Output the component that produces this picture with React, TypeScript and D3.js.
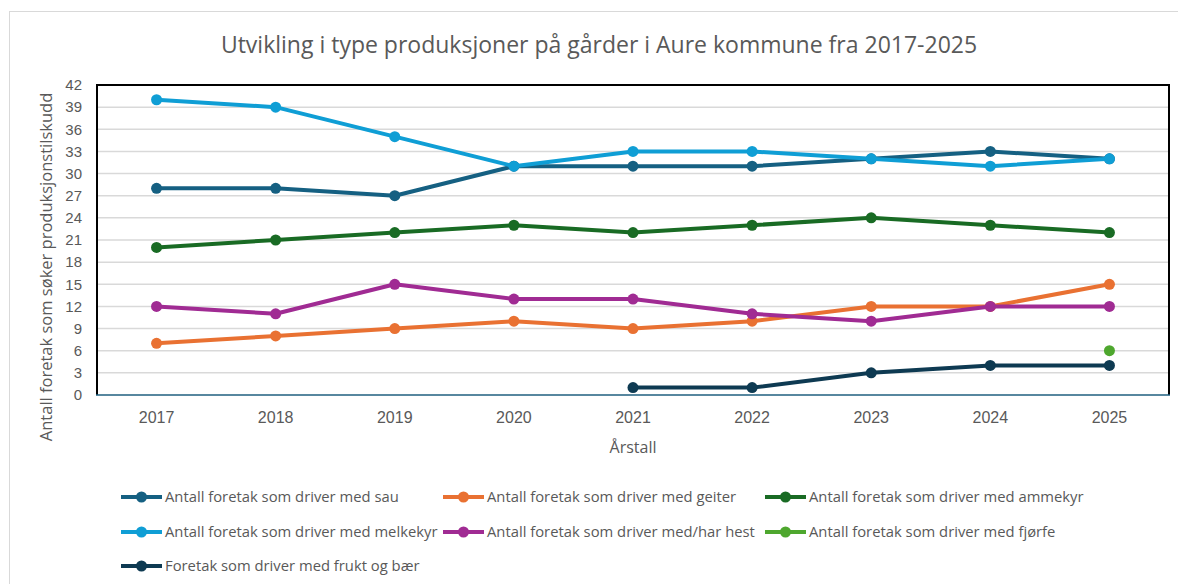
import React, { useEffect, useRef } from "react";
import * as d3 from "d3";

// chart data
const years = ["2017", "2018", "2019", "2020", "2021", "2022", "2023", "2024", "2025"];
const sau = [28, 28, 27, 31, 31, 31, 32, 33, 32];
const geiter = [7, 8, 9, 10, 9, 10, 12, 12, 15];
const ammekyr = [20, 21, 22, 23, 22, 23, 24, 23, 22];
const melkekyr = [40, 39, 35, 31, 33, 33, 32, 31, 32];
const hest = [12, 11, 15, 13, 13, 11, 10, 12, 12];
const fjorfe = [null, null, null, null, null, null, null, null, 6];
const fruktBaer = [null, null, null, null, 1, 1, 3, 4, 4];
const yTicks = [0, 3, 6, 9, 12, 15, 18, 21, 24, 27, 30, 33, 36, 39, 42];

const seriesNames = [
  "Antall foretak som driver med sau",
  "Antall foretak som driver med geiter",
  "Antall foretak som driver med ammekyr",
  "Antall foretak som driver med melkekyr",
  "Antall foretak som driver med/har hest",
  "Antall foretak som driver med fjørfe",
  "Foretak som driver med frukt og bær",
];
const seriesColors = ["#156082", "#e97132", "#196b24", "#0f9ed5", "#a02b93", "#4ea72e", "#0e3a52"];

export default function App() {
  const ref = useRef<SVGSVGElement>(null);

  useEffect(() => {
    const svg = d3.select(ref.current);
    svg.selectAll("*").remove();

    const width = 1178;
    const height = 584;
    const margin = { top: 85, right: 9, bottom: 189, left: 97 };
    const plotW = width - margin.left - margin.right;
    const plotH = height - margin.top - margin.bottom;
    const textColor = "#595959";
    const tickFont = "'Liberation Sans', Arial, sans-serif";
    const labelFont = "'Open Sans', sans-serif";

    // outer chart frame
    svg.append("rect")
      .attr("x", 9.5).attr("y", 11.5)
      .attr("width", width).attr("height", height)
      .attr("fill", "#fff").attr("stroke", "#d9d9d9").attr("stroke-width", 1);

    svg.append("text")
      .attr("x", 599).attr("y", 53)
      .attr("text-anchor", "middle")
      .attr("font-family", labelFont)
      .attr("font-size", 23)
      .attr("fill", textColor)
      .text("Utvikling i type produksjoner på gårder i Aure kommune fra 2017-2025");

    const g = svg.append("g").attr("transform", `translate(${margin.left},${margin.top})`);

    const x = d3.scalePoint().domain(years).range([0, plotW]).padding(0.5);
    const y = d3.scaleLinear().domain([0, 42]).range([plotH, 0]);

    // gridlines
    g.append("g").selectAll("line").data(yTicks.slice(1)).join("line")
      .attr("x1", 0).attr("x2", plotW)
      .attr("y1", (d) => y(d)).attr("y2", (d) => y(d))
      .attr("stroke", "#d9d9d9").attr("stroke-width", 1.5);

    // plot border
    g.append("path")
      .attr("d", `M0,${plotH}V0H${plotW}V${plotH}`)
      .attr("fill", "none").attr("stroke", "#000").attr("stroke-width", 2);
    g.append("line")
      .attr("x1", -1).attr("x2", plotW + 1)
      .attr("y1", plotH).attr("y2", plotH)
      .attr("stroke", "#1f5f7f").attr("stroke-width", 1.5);

    // y axis labels
    g.append("g").selectAll("text").data(yTicks).join("text")
      .attr("x", -15).attr("y", (d) => y(d))
      .attr("dy", "0.35em")
      .attr("text-anchor", "end")
      .attr("font-family", tickFont).attr("font-size", 15)
      .attr("fill", textColor)
      .text((d) => d);

    // x axis labels
    g.append("g").selectAll("text").data(years).join("text")
      .attr("x", (d) => x(d)!).attr("y", plotH + 28)
      .attr("text-anchor", "middle")
      .attr("font-family", tickFont).attr("font-size", 16)
      .attr("fill", textColor)
      .text((d) => d);

    svg.append("text")
      .attr("x", 633).attr("y", 453)
      .attr("text-anchor", "middle")
      .attr("font-family", labelFont).attr("font-size", 16)
      .attr("fill", textColor)
      .text("Årstall");

    svg.append("text")
      .attr("transform", "translate(52,267) rotate(-90)")
      .attr("text-anchor", "middle")
      .attr("font-family", labelFont).attr("font-size", 16.5)
      .attr("fill", textColor)
      .text("Antall foretak som søker produksjonstilskudd");

    // series
    const allSeries = [sau, geiter, ammekyr, melkekyr, hest, fjorfe, fruktBaer];
    const line = d3.line<number | null>()
      .defined((d) => d !== null)
      .x((_, i) => x(years[i])!)
      .y((d) => y(d as number));

    allSeries.forEach((values, si) => {
      const sg = g.append("g");
      sg.append("path")
        .datum(values)
        .attr("d", line)
        .attr("fill", "none")
        .attr("stroke", seriesColors[si])
        .attr("stroke-width", 4)
        .attr("stroke-linejoin", "round");
      sg.selectAll("circle")
        .data(values.map((v, i) => ({ v, i })).filter((d) => d.v !== null))
        .join("circle")
        .attr("cx", (d) => x(years[d.i])!)
        .attr("cy", (d) => y(d.v as number))
        .attr("r", 5.5)
        .attr("fill", seriesColors[si]);
    });

    // legend
    const legendCols = [121, 443, 765];
    const legendRows = [497, 532, 566];
    const legend = svg.append("g");
    seriesNames.forEach((name, i) => {
      const lx = legendCols[i % 3];
      const ly = legendRows[Math.floor(i / 3)];
      const item = legend.append("g").attr("transform", `translate(${lx},${ly})`);
      item.append("line")
        .attr("x1", 0).attr("x2", 41).attr("y1", 0).attr("y2", 0)
        .attr("stroke", seriesColors[i]).attr("stroke-width", 4);
      item.append("circle").attr("cx", 20.5).attr("cy", 0).attr("r", 5.5).attr("fill", seriesColors[i]);
      item.append("text")
        .attr("x", 44).attr("y", 0).attr("dy", "0.35em")
        .attr("font-family", labelFont).attr("font-size", 14.8)
        .attr("fill", textColor)
        .text(name);
    });
  }, []);

  return (
    <svg
      ref={ref}
      width={1178}
      height={584}
      style={{ position: "absolute", left: 0, top: 0, background: "#fff" }}
    />
  );
}
